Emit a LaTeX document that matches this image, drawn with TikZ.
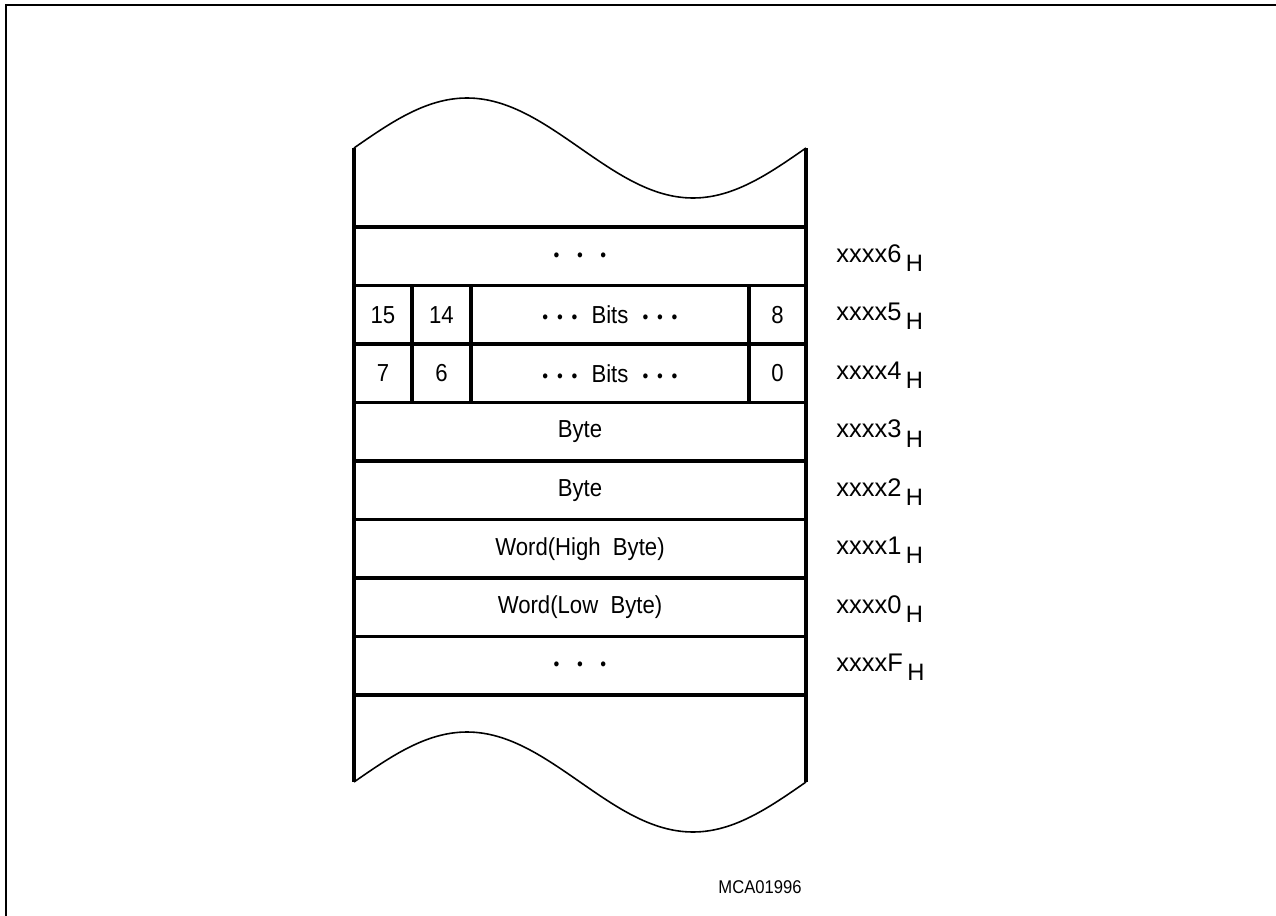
\documentclass[tikz,border=0pt]{standalone}
\usepackage{fontspec}
\setmainfont{Liberation Sans}[FakeStretch=0.9]
\newfontfamily\addrfont{Liberation Sans}
\tikzset{wall/.style={line width=2.3pt},
	rowline/.style={line width=2pt},
	wave/.style={line width=0.9pt},
	frame/.style={line width=1.7pt},
	lbl/.style={font=\fontsize{14}{16}\selectfont,inner sep=0pt},
	addr/.style={font=\addrfont\fontsize{14.5}{16}\selectfont,inner sep=0pt,anchor=west}}
\newcommand{\hsub}{\hspace{2.5pt}\raisebox{-0.7ex}{\fontsize{13.5}{15}\selectfont H}}
\newcommand{\bdot}{\scalebox{0.75}{\textbullet}}

\begin{document}
\begin{tikzpicture}[x=0.02cm,y=-0.02cm]
\useasboundingbox (0,0) rectangle (1276,916);
\draw[frame] (6,916) -- (6,5) -- (1276,5);
% memory rows
\foreach \i in {0,...,8}
  \draw[rowline] (354,{227+58.5*\i}) -- (806,{227+58.5*\i});
\draw[rowline] (412,285.5) -- (412,402.5);
\draw[rowline] (471,285.5) -- (471,402.5);
\draw[rowline] (749,285.5) -- (749,402.5);
% torn ends
\draw[wave] (354,148) sin (467,98) cos (580,148) sin (693,198) cos (806,148);
\draw[wave] (354,782) sin (467,732) cos (580,782) sin (693,832) cos (806,782);
\draw[wall] (354,148) -- (354,782);
\draw[wall] (806,148) -- (806,782);
% contents
\node[lbl] (top) at (580,257) {\bdot\hspace{10pt}\bdot\hspace{10pt}\bdot};
\node[lbl] (b15) at (383,314.75) {15};
\node[lbl] (b14) at (441.5,314.75) {14};
\node[lbl] (bitshi) at (610,314.75) {\bdot\hspace{5pt}\bdot\hspace{5pt}\bdot\hspace{8pt}Bits\hspace{8pt}\bdot\hspace{5pt}\bdot\hspace{5pt}\bdot};
\node[lbl] (b8) at (777.5,314.75) {8};
\node[lbl] (b7) at (383,373.25) {7};
\node[lbl] (b6) at (441.5,373.25) {6};
\node[lbl] (bitslo) at (610,373.25) {\bdot\hspace{5pt}\bdot\hspace{5pt}\bdot\hspace{8pt}Bits\hspace{8pt}\bdot\hspace{5pt}\bdot\hspace{5pt}\bdot};
\node[lbl] (b0) at (777.5,373.25) {0};
\node[lbl] (byte3) at (580,431.75) {Byte};
\node[lbl] (byte2) at (580,490.25) {Byte};
\node[lbl] (whigh) at (580,548.75) {Word(High\ \ Byte)};
\node[lbl] (wlow) at (580,607.25) {Word(Low\ \ Byte)};
\node[lbl] (bottom) at (580,666.5) {\bdot\hspace{10pt}\bdot\hspace{10pt}\bdot};
% addresses
\node[addr] (a6) at (836,258) {xxxx6\hsub};
\node[addr] (a5) at (836,316.5) {xxxx5\hsub};
\node[addr] (a4) at (836,375) {xxxx4\hsub};
\node[addr] (a3) at (836,433.5) {xxxx3\hsub};
\node[addr] (a2) at (836,492) {xxxx2\hsub};
\node[addr] (a1) at (836,550.5) {xxxx1\hsub};
\node[addr] (a0) at (836,609) {xxxx0\hsub};
\node[addr] (aF) at (836,667.5) {xxxxF\hsub};
\node[font=\fontsize{10.5}{12}\selectfont,inner sep=0pt] (code) at (760,887) {MCA01996};
\end{tikzpicture}
\end{document}
